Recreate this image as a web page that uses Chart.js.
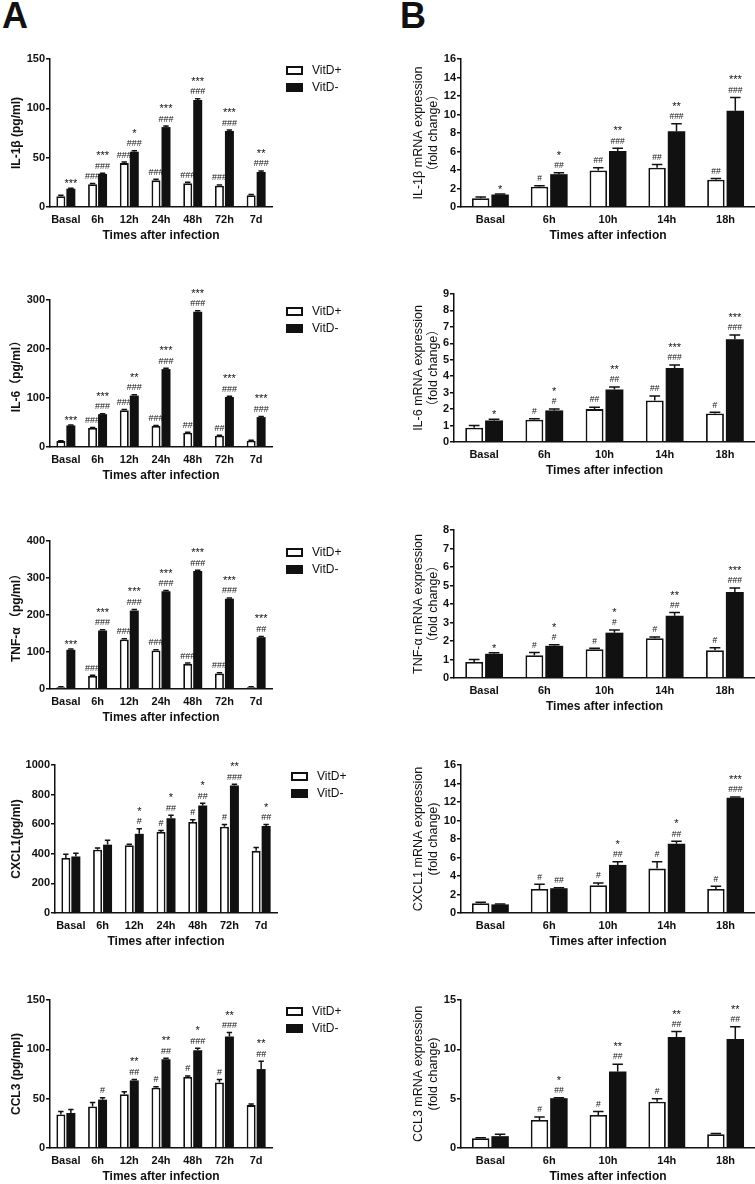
<!DOCTYPE html>
<html>
<head>
<meta charset="utf-8">
<script src="https://cdn.jsdelivr.net/npm/chart.js@4.4.1/dist/chart.umd.min.js"></script>
<style>
  html, body { margin: 0; padding: 0; background: #fff; overflow: hidden; }
  #page { position: relative; width: 755px; height: 1184px; }
  canvas { position: absolute; }
  .tag { position: absolute; font: bold 36px 'Liberation Sans', Arial, sans-serif; line-height: 1; color: #111; }
</style>
</head>
<body>
<div id="page">
  <div class="tag" style="left:2px;top:-2px">A</div>
  <div class="tag" style="left:400px;top:-2px">B</div>
</div>
<script>
const FONT = "'Liberation Sans', Arial, 'Noto Sans CJK SC', sans-serif";

// categories
const leftTimes = ['Basal', '6h', '12h', '24h', '48h', '72h', '7d'];
const rightTimes = ['Basal', '6h', '10h', '14h', '18h'];
const seriesNames = ['VitD+', 'VitD-'];

// A1 IL-1β protein
const il1bPlus = [11, 23, 44.5, 27, 24, 21.5, 12];
const il1bPlusErr = [0.8, 0.8, 1, 1, 1, 0.8, 0.6];
const il1bMinus = [18.5, 33.5, 56, 81, 108.5, 77, 35.5];
const il1bMinusErr = [0.6, 0.6, 1, 1, 1.2, 1, 1];
const il1bPlusMarks = [[], ['###'], ['###'], ['###'], ['###'], ['###'], []];
const il1bMinusMarks = [['***'], ['###', '***'], ['###', '*'], ['###', '***'], ['###', '***'], ['###', '***'], ['###', '**']];

// B1 IL-1β mRNA
const il1bMrnaPlus = [0.95, 2.2, 3.95, 4.25, 2.95];
const il1bMrnaPlusErr = [0.12, 0.1, 0.3, 0.35, 0.12];
const il1bMrnaMinus = [1.35, 3.55, 6.05, 8.2, 10.4];
const il1bMrnaMinusErr = [0.05, 0.15, 0.3, 0.8, 1.45];
const il1bMrnaPlusMarks = [[], ['#'], ['##'], ['##'], ['##']];
const il1bMrnaMinusMarks = [['*'], ['##', '*'], ['###', '**'], ['###', '**'], ['###', '***']];

// A2 IL-6 protein
const il6Plus = [12, 39, 75, 43, 29, 23, 13];
const il6PlusErr = [1, 1, 1.5, 1, 1, 1, 1];
const il6Minus = [44, 67, 105, 159, 276, 102, 61];
const il6MinusErr = [1, 1, 1.5, 1.5, 2, 1.5, 1.5];
const il6PlusMarks = [[], ['###'], ['###'], ['###'], ['##'], ['##'], []];
const il6MinusMarks = [['***'], ['###', '***'], ['###', '**'], ['###', '***'], ['###', '***'], ['###', '***'], ['###', '***']];

// B2 IL-6 mRNA
const il6MrnaPlus = [0.87, 1.36, 2.0, 2.52, 1.73];
const il6MrnaPlusErr = [0.13, 0.05, 0.12, 0.27, 0.08];
const il6MrnaMinus = [1.31, 1.92, 3.19, 4.5, 6.25];
const il6MrnaMinusErr = [0.07, 0.08, 0.16, 0.18, 0.25];
const il6MrnaPlusMarks = [[], ['#'], ['##'], ['##'], ['#']];
const il6MrnaMinusMarks = [['*'], ['#', '*'], ['##', '**'], ['###', '***'], ['###', '***']];

// A3 TNF-α protein
const tnfPlus = [5, 35, 134, 104, 68, 42, 5];
const tnfPlusErr = [1, 2, 2, 2, 2, 2, 1];
const tnfMinus = [106, 158, 212, 264, 319, 244, 140];
const tnfMinusErr = [2, 2, 3, 2, 2, 2, 2];
const tnfPlusMarks = [[], ['###'], ['###'], ['###'], ['###'], ['###'], []];
const tnfMinusMarks = [['***'], ['###', '***'], ['###', '***'], ['###', '***'], ['###', '***'], ['###', '***'], ['##', '***']];

// B3 TNF-α mRNA
const tnfMrnaPlus = [0.87, 1.23, 1.56, 2.15, 1.5];
const tnfMrnaPlusErr = [0.13, 0.15, 0.05, 0.07, 0.13];
const tnfMrnaMinus = [1.31, 1.74, 2.45, 3.36, 4.65];
const tnfMrnaMinusErr = [0.06, 0.06, 0.15, 0.18, 0.22];
const tnfMrnaPlusMarks = [[], ['#'], ['#'], ['#'], ['#']];
const tnfMrnaMinusMarks = [['*'], ['#', '*'], ['#', '*'], ['##', '**'], ['###', '***']];

// A4 CXCL1 protein
const cxcl1Plus = [372, 428, 458, 548, 615, 583, 420];
const cxcl1PlusErr = [25, 12, 6, 10, 15, 15, 22];
const cxcl1Minus = [382, 462, 535, 640, 727, 862, 588];
const cxcl1MinusErr = [22, 30, 35, 20, 15, 8, 10];
const cxcl1PlusMarks = [[], [], [], ['#'], ['#'], ['#'], []];
const cxcl1MinusMarks = [[], [], ['#', '*'], ['##', '*'], ['##', '*'], ['###', '**'], ['##', '*']];

// B4 CXCL1 mRNA
const cxcl1MrnaPlus = [1.05, 2.6, 3.0, 4.8, 2.6];
const cxcl1MrnaPlusErr = [0.12, 0.5, 0.25, 0.75, 0.3];
const cxcl1MrnaMinus = [0.93, 2.68, 5.2, 7.5, 12.45];
const cxcl1MrnaMinusErr = [0.05, 0.05, 0.35, 0.25, 0.1];
const cxcl1MrnaPlusMarks = [[], ['#'], ['#'], ['#'], ['#']];
const cxcl1MrnaMinusMarks = [[], ['##'], ['##', '*'], ['##', '*'], ['###', '***']];

// A5 CCL3 protein
const ccl3Plus = [34, 42, 54.5, 61, 72, 66.5, 43.5];
const ccl3PlusErr = [3, 4, 2.5, 1.2, 1, 3, 1];
const ccl3Minus = [35.5, 49, 68.5, 90, 99, 113, 80];
const ccl3MinusErr = [3.5, 2, 1, 1, 2, 4, 8];
const ccl3PlusMarks = [[], [], [], ['#'], ['#'], ['#'], []];
const ccl3MinusMarks = [[], ['#'], ['##', '**'], ['##', '**'], ['###', '*'], ['###', '**'], ['##', '**']];

// B5 CCL3 mRNA
const ccl3MrnaPlus = [1.0, 2.85, 3.35, 4.7, 1.4];
const ccl3MrnaPlusErr = [0.05, 0.3, 0.35, 0.3, 0.08];
const ccl3MrnaMinus = [1.2, 5.05, 7.75, 11.25, 11.05];
const ccl3MrnaMinusErr = [0.2, 0.05, 0.75, 0.55, 1.25];
const ccl3MrnaPlusMarks = [[], ['#'], ['#'], ['#'], []];
const ccl3MrnaMinusMarks = [[], ['##', '*'], ['##', '**'], ['##', '**'], ['##', '**']];

// error bars, significance marks and legend
const extras = {
  id: 'extras',
  afterDatasetsDraw(chart) {
    const ctx = chart.ctx;
    const y = chart.scales.y;
    const opt = chart.options.plugins.extras;
    chart.data.datasets.forEach((ds, di) => {
      chart.getDatasetMeta(di).data.forEach((bar, i) => {
        const top = y.getPixelForValue(ds.data[i] + ds.err[i]);
        const half = bar.width * 0.3;
        ctx.save();
        ctx.strokeStyle = '#111';
        ctx.lineWidth = 1.5;
        ctx.beginPath();
        ctx.moveTo(bar.x, bar.y);
        ctx.lineTo(bar.x, top);
        ctx.moveTo(bar.x - half, top);
        ctx.lineTo(bar.x + half, top);
        ctx.stroke();
        ctx.fillStyle = '#111';
        ctx.textAlign = 'center';
        ctx.textBaseline = 'middle';
        let my = top - 7;
        ds.marks[i].forEach(m => {
          const star = m[0] === '*';
          ctx.font = (star ? opt.starSize : opt.hashSize) + 'px ' + FONT;
          ctx.fillText(m, bar.x, my + (star ? 3 : 0));
          my -= 13;
        });
        ctx.restore();
      });
    });
    const a = chart.chartArea;
    const lx = a.right + 14;
    chart.data.datasets.forEach((ds, di) => {
      const ly = a.top + 7 + di * 17;
      ctx.save();
      if (di === 0) {
        ctx.strokeStyle = '#111';
        ctx.lineWidth = 2;
        ctx.strokeRect(lx + 1, ly + 1, 15, 7);
      } else {
        ctx.fillStyle = '#111';
        ctx.fillRect(lx, ly, 17, 9);
      }
      ctx.fillStyle = '#111';
      ctx.font = '12px ' + FONT;
      ctx.textAlign = 'left';
      ctx.textBaseline = 'middle';
      ctx.fillText(ds.label, lx + 26, ly + 4.5);
      ctx.restore();
    });
  }
};

function makePanel(p) {
  const canvas = document.createElement('canvas');
  canvas.width = 375;
  canvas.height = p.bottom - p.top + 65;
  canvas.style.left = p.x + 'px';
  canvas.style.top = (p.top - 25) + 'px';
  document.getElementById('page').appendChild(canvas);
  const left = p.labels.length === 7;
  new Chart(canvas.getContext('2d'), {
    type: 'bar',
    data: {
      labels: p.labels,
      datasets: [{
        label: seriesNames[0],
        data: p.plus, err: p.plusErr, marks: p.plusMarks,
        backgroundColor: '#fff', borderColor: '#111', borderWidth: 1.8,
        categoryPercentage: left ? 0.63 : 0.66, barPercentage: 0.9
      }, {
        label: seriesNames[1],
        data: p.minus, err: p.minusErr, marks: p.minusMarks,
        backgroundColor: '#111', borderColor: '#111', borderWidth: 0,
        categoryPercentage: left ? 0.63 : 0.66, barPercentage: 0.9
      }]
    },
    options: {
      responsive: false,
      animation: false,
      devicePixelRatio: 1,
      layout: { padding: { top: 25, left: 0, bottom: 0, right: 375 - p.right } },
      plugins: {
        legend: { display: false },
        tooltip: { enabled: false },
        extras: { hashSize: left ? 9 : 8.5, starSize: 11 }
      },
      scales: {
        x: {
          grid: { display: false, drawTicks: false },
          border: { color: '#111', width: 1.5 },
          ticks: { color: '#111', font: { family: FONT, size: 11, weight: 'bold' }, padding: 6, maxRotation: 0, autoSkip: false },
          title: { display: true, text: 'Times after infection', color: '#111',
                   font: { family: FONT, size: 12, weight: 'bold', lineHeight: 1.2 }, padding: { top: 0, bottom: 4 } },
          afterFit(s) { s.height = 40; }
        },
        y: {
          min: 0, max: p.max,
          ticks: { stepSize: p.step, color: '#111', font: { family: FONT, size: 11, weight: 'bold' }, padding: 1,
                   callback: v => String(v) },
          grid: { drawOnChartArea: false, drawTicks: true, tickLength: 4, color: '#111', lineWidth: 1.5 },
          border: { color: '#111', width: 1.5 },
          title: { display: true, text: p.title, color: '#111',
                   font: { family: FONT, size: left ? 12 : 12.5, weight: left ? 'bold' : 'normal', lineHeight: 1.2 },
                   padding: { top: left ? 9 : 31.5, bottom: 0 } },
          afterFit(s) { s.width = p.axisX - p.x; }
        }
      }
    },
    plugins: [extras]
  });
}

const panels = [
  { x: 0, axisX: 50, right: 272, top: 59, bottom: 207, max: 150, step: 50, labels: leftTimes,
    title: 'IL-1β (pg/ml)', plus: il1bPlus, plusErr: il1bPlusErr, minus: il1bMinus, minusErr: il1bMinusErr,
    plusMarks: il1bPlusMarks, minusMarks: il1bMinusMarks },
  { x: 380, axisX: 461, right: 682, top: 59, bottom: 207, max: 16, step: 2, labels: rightTimes,
    title: ['IL-1β mRNA expression', '（fold change）'], plus: il1bMrnaPlus, plusErr: il1bMrnaPlusErr,
    minus: il1bMrnaMinus, minusErr: il1bMrnaMinusErr, plusMarks: il1bMrnaPlusMarks, minusMarks: il1bMrnaMinusMarks },
  { x: 0, axisX: 50, right: 272, top: 300, bottom: 447, max: 300, step: 100, labels: leftTimes,
    title: 'IL-6（pg/ml）', plus: il6Plus, plusErr: il6PlusErr, minus: il6Minus, minusErr: il6MinusErr,
    plusMarks: il6PlusMarks, minusMarks: il6MinusMarks },
  { x: 380, axisX: 454, right: 677, top: 294, bottom: 442, max: 9, step: 1, labels: rightTimes,
    title: ['IL-6 mRNA expression', '（fold change）'], plus: il6MrnaPlus, plusErr: il6MrnaPlusErr,
    minus: il6MrnaMinus, minusErr: il6MrnaMinusErr, plusMarks: il6MrnaPlusMarks, minusMarks: il6MrnaMinusMarks },
  { x: 0, axisX: 50, right: 272, top: 541, bottom: 689, max: 400, step: 100, labels: leftTimes,
    title: 'TNF-α （pg/ml）', plus: tnfPlus, plusErr: tnfPlusErr, minus: tnfMinus, minusErr: tnfMinusErr,
    plusMarks: tnfPlusMarks, minusMarks: tnfMinusMarks },
  { x: 380, axisX: 454, right: 677, top: 530, bottom: 678, max: 8, step: 1, labels: rightTimes,
    title: ['TNF-α mRNA expression', '（fold change）'], plus: tnfMrnaPlus, plusErr: tnfMrnaPlusErr,
    minus: tnfMrnaMinus, minusErr: tnfMrnaMinusErr, plusMarks: tnfMrnaPlusMarks, minusMarks: tnfMrnaMinusMarks },
  { x: 0, axisX: 55, right: 277, top: 765, bottom: 913, max: 1000, step: 200, labels: leftTimes,
    title: 'CXCL1(pg/ml)', plus: cxcl1Plus, plusErr: cxcl1PlusErr, minus: cxcl1Minus, minusErr: cxcl1MinusErr,
    plusMarks: cxcl1PlusMarks, minusMarks: cxcl1MinusMarks },
  { x: 380, axisX: 461, right: 682, top: 765, bottom: 913, max: 16, step: 2, labels: rightTimes,
    title: ['CXCL1 mRNA expression', '(fold change)'], plus: cxcl1MrnaPlus, plusErr: cxcl1MrnaPlusErr,
    minus: cxcl1MrnaMinus, minusErr: cxcl1MrnaMinusErr, plusMarks: cxcl1MrnaPlusMarks, minusMarks: cxcl1MrnaMinusMarks },
  { x: 0, axisX: 50, right: 272, top: 1000, bottom: 1148, max: 150, step: 50, labels: leftTimes,
    title: 'CCL3 (pg/mpl)', plus: ccl3Plus, plusErr: ccl3PlusErr, minus: ccl3Minus, minusErr: ccl3MinusErr,
    plusMarks: ccl3PlusMarks, minusMarks: ccl3MinusMarks },
  { x: 380, axisX: 461, right: 682, top: 1000, bottom: 1148, max: 15, step: 5, labels: rightTimes,
    title: ['CCL3 mRNA expression', '(fold change)'], plus: ccl3MrnaPlus, plusErr: ccl3MrnaPlusErr,
    minus: ccl3MrnaMinus, minusErr: ccl3MrnaMinusErr, plusMarks: ccl3MrnaPlusMarks, minusMarks: ccl3MrnaMinusMarks }
];

panels.forEach(makePanel);
</script>
</body>
</html>
